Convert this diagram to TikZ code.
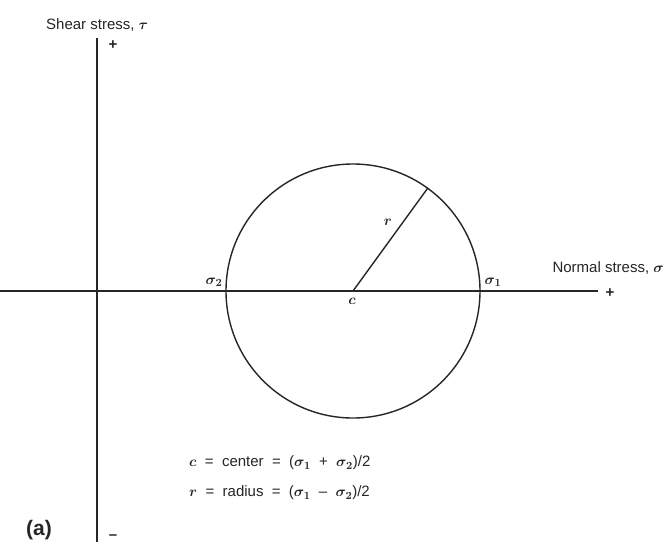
\documentclass[tikz,border=0pt]{standalone}
\usepackage{amsmath}
\usepackage{fontspec}
\setmainfont{Liberation Sans}
\newcommand{\bsym}[1]{$\boldsymbol{#1}$}
\begin{document}
\begin{tikzpicture}[x=1pt,y=-1pt,
  ink/.style={draw=black!85,line width=1.4pt},
  lbl/.style={text=black!85,font=\fontsize{15}{17}\selectfont,inner sep=0pt},
  sym/.style={text=black!85,font=\fontsize{15}{17}\selectfont,inner sep=0pt}]
\fill[white] (0,0) rectangle (664,542);
\useasboundingbox (0,0) rectangle (664,542);
% axes
\coordinate (hL) at (0,291);
\coordinate (hR) at (598,291);
\coordinate (vT) at (97,38);
\coordinate (vB) at (97,542);
\draw[ink] (hL) -- (hR);
\draw[ink] (vT) -- (vB);
% circle
\node[circle,draw=black!85,line width=1.4pt,minimum size=254pt,inner sep=0pt] (circ) at (353,291) {};
\coordinate (cc) at (353,291);
\draw[ink] (cc) -- (circ.54);
% labels
\node[lbl,anchor=west] (shear) at (46,25) {Shear stress, \bsym{\tau}};
\node[lbl] (tplus) at (113,45) {\textbf{+}};
\node[lbl,anchor=east] (normal) at (664,268) {Normal stress, \bsym{\sigma}};
\node[lbl] (hplus) at (610,293) {\textbf{+}};
\node[sym] (clab) at (352,301) {\bsym{c}};
\node[sym] (rlab) at (388,222) {\bsym{r}};
\node[sym] (s2) at (214,282) {\bsym{\sigma_2}};
\node[sym] (s1) at (493,282) {\bsym{\sigma_1}};
\node[lbl,anchor=west] (eq1) at (189,463) {\bsym{c} \;=\; center \;=\; (\bsym{\sigma_1} \;+\; \bsym{\sigma_2})/2};
\node[lbl,anchor=west] (eq2) at (189,493) {\bsym{r} \;=\; radius \;=\; (\bsym{\sigma_1} \;--\; \bsym{\sigma_2})/2};
\node[lbl,anchor=west,font=\fontsize{21}{24}\selectfont\bfseries] (a) at (26,530) {(a)};
\node[lbl] (vminus) at (113,537) {\textbf{--}};
\end{tikzpicture}
\end{document}
